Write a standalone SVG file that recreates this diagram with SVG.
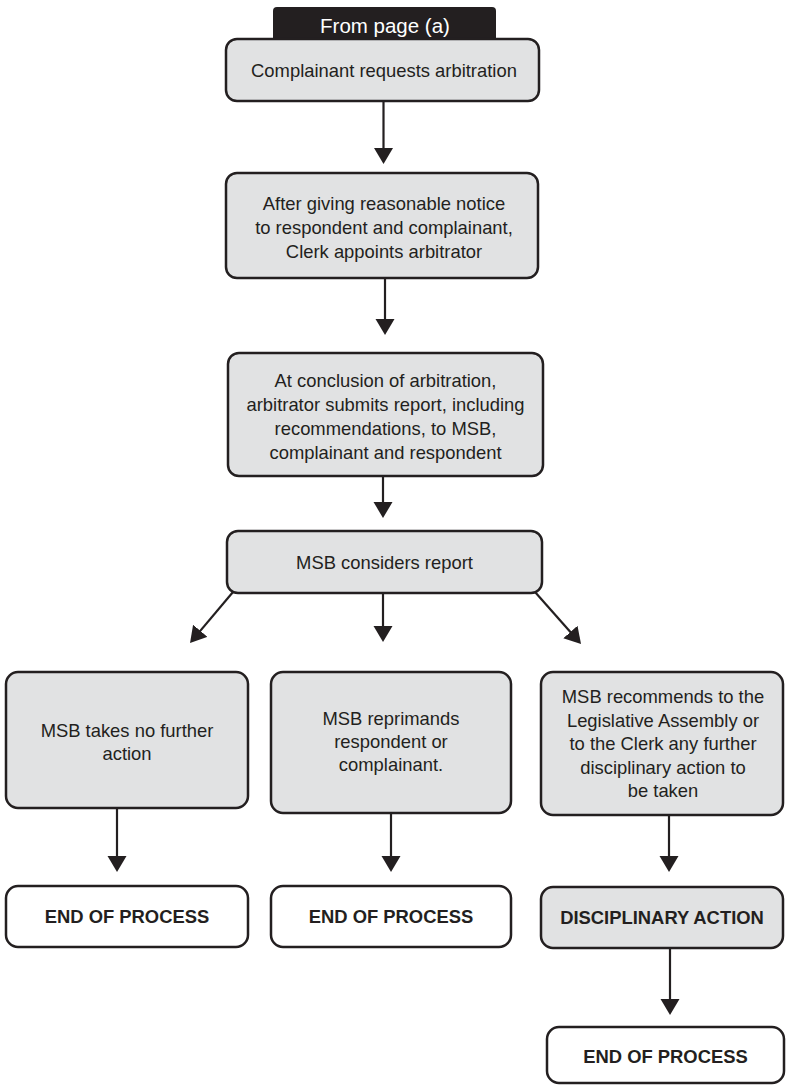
<svg xmlns="http://www.w3.org/2000/svg" width="788" height="1085" viewBox="0 0 788 1085">
  <defs>
    <marker id="arrowhead" markerUnits="userSpaceOnUse" markerWidth="20" markerHeight="20" refX="8" refY="9.5" orient="auto">
      <path d="M0,0 L16,9.5 L0,19 Z" fill="#231f20"/>
    </marker>
    <style>
      .box { fill: #e1e2e3; stroke: #231f20; stroke-width: 2.5; }
      .end { fill: #ffffff; stroke: #231f20; stroke-width: 2.5; }
      .txt { font-family: "Liberation Sans", Arial, sans-serif; font-size: 18.4px; fill: #231f20; text-anchor: middle; }
      .bold { font-family: "Liberation Sans", Arial, sans-serif; font-size: 18.4px; font-weight: bold; fill: #231f20; text-anchor: middle; }
      .tab { font-family: "Liberation Sans", Arial, sans-serif; font-size: 20.5px; fill: #ffffff; text-anchor: middle; }
      .conn { stroke: #231f20; stroke-width: 2.2; fill: none; marker-end: url(#arrowhead); }
    </style>
  </defs>
  <rect width="788" height="1085" fill="#ffffff"/>

  <!-- Header tab -->
  <g id="from-page">
    <path d="M273,42 L273,11 Q273,7 277,7 L492,7 Q496,7 496,11 L496,42 Z" fill="#231f20"/>
    <text class="tab" x="385" y="33">From page (a)</text>
  </g>

  <g id="request">
    <rect class="box" x="226" y="39" width="313" height="62" rx="11"/>
    <text class="txt" x="384" y="77">Complainant requests arbitration</text>
  </g>

  <g id="appoint">
    <rect class="box" x="226" y="173" width="312" height="105" rx="11"/>
    <text class="txt" x="384" y="210">After giving reasonable notice</text>
    <text class="txt" x="384" y="234">to respondent and complainant,</text>
    <text class="txt" x="384" y="257.5">Clerk appoints arbitrator</text>
  </g>

  <g id="report">
    <rect class="box" x="228" y="353" width="315" height="123" rx="11"/>
    <text class="txt" x="385.5" y="387">At conclusion of arbitration,</text>
    <text class="txt" x="385.5" y="411">arbitrator submits report, including</text>
    <text class="txt" x="385.5" y="435">recommendations, to MSB,</text>
    <text class="txt" x="385.5" y="459">complainant and respondent</text>
  </g>

  <g id="considers">
    <rect class="box" x="227" y="531" width="315" height="62" rx="11"/>
    <text class="txt" x="384.5" y="568.5">MSB considers report</text>
  </g>

  <g id="no-action">
    <rect class="box" x="6" y="672" width="242" height="136" rx="12"/>
    <text class="txt" x="127" y="737">MSB takes no further</text>
    <text class="txt" x="127" y="760">action</text>
  </g>

  <g id="reprimand">
    <rect class="box" x="271" y="672" width="240" height="141" rx="12"/>
    <text class="txt" x="391" y="725">MSB reprimands</text>
    <text class="txt" x="391" y="748">respondent or</text>
    <text class="txt" x="391" y="771">complainant.</text>
  </g>

  <g id="recommend">
    <rect class="box" x="541" y="672" width="242" height="143" rx="12"/>
    <text class="txt" x="663" y="703">MSB recommends to the</text>
    <text class="txt" x="663" y="726.5">Legislative Assembly or</text>
    <text class="txt" x="663" y="750">to the Clerk any further</text>
    <text class="txt" x="663" y="773.5">disciplinary action to</text>
    <text class="txt" x="663" y="797">be taken</text>
  </g>

  <g id="end-1">
    <rect class="end" x="6" y="886" width="242" height="61" rx="12"/>
    <text class="bold" x="127" y="923">END OF PROCESS</text>
  </g>

  <g id="end-2">
    <rect class="end" x="271" y="886" width="240" height="61" rx="12"/>
    <text class="bold" x="391" y="923">END OF PROCESS</text>
  </g>

  <g id="disciplinary">
    <rect class="box" x="541" y="887" width="242" height="61" rx="12"/>
    <text class="bold" x="662" y="923.5">DISCIPLINARY ACTION</text>
  </g>

  <g id="end-3">
    <rect class="end" x="547" y="1027" width="237" height="56" rx="12"/>
    <text class="bold" x="665.5" y="1063">END OF PROCESS</text>
  </g>

  <!-- Connectors -->
  <g id="connectors">
    <line class="conn" x1="383.5" y1="101" x2="383.5" y2="156"/>
    <line class="conn" x1="385" y1="278" x2="385" y2="327"/>
    <line class="conn" x1="383" y1="476" x2="383" y2="510"/>
    <line class="conn" x1="233" y1="592" x2="195.2" y2="636.9"/>
    <line class="conn" x1="383" y1="593" x2="383" y2="634"/>
    <line class="conn" x1="535" y1="592" x2="575.7" y2="638"/>
    <line class="conn" x1="117" y1="808" x2="117" y2="864"/>
    <line class="conn" x1="391" y1="813" x2="391" y2="864"/>
    <line class="conn" x1="669" y1="815" x2="669" y2="864"/>
    <line class="conn" x1="670" y1="948" x2="670" y2="1007"/>
  </g>
</svg>
